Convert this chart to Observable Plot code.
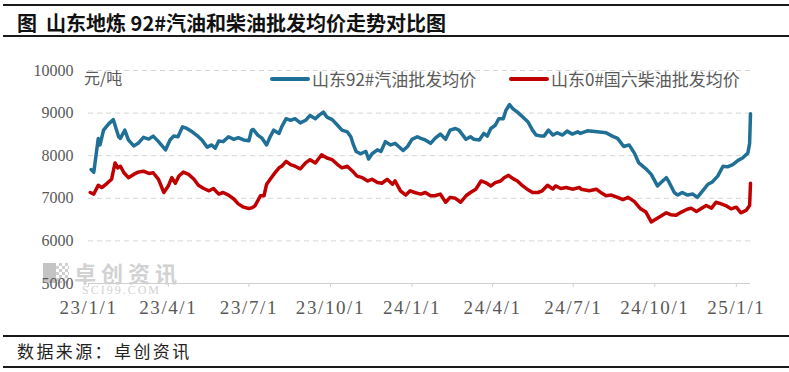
<!DOCTYPE html>
<html>
<head>
<meta charset="utf-8">
<script src="https://cdn.jsdelivr.net/npm/d3@7"></script>
<script src="https://cdn.jsdelivr.net/npm/@observablehq/plot@0.6"></script>
<style>
  html, body { margin: 0; padding: 0; background: #fff; }
  #wrap { position: relative; width: 789px; height: 372px; overflow: hidden; font-family: "Noto Sans CJK SC", sans-serif; }
  .rule { position: absolute; left: 3px; right: 0; background: #1a1a1a; }
  #title { position: absolute; left: 17px; top: 10px; font-size: 20px; font-weight: 700; line-height: 26px; color: #111; white-space: pre; }
  #chart { position: absolute; left: 0; top: 40px; z-index: 2; }
  #source { position: absolute; left: 17px; top: 340px; font-size: 17px; line-height: 22px; letter-spacing: 2.4px; color: #222; }
  .leg { position: absolute; z-index: 3; font-size: 17px; line-height: 20px; color: #595959; white-space: pre; }
  .sw { position: absolute; height: 4px; border-radius: 2px; z-index: 3; }
  #unit { position: absolute; left: 84px; top: 67px; font-size: 16px; line-height: 20px; color: #595959; z-index: 3; }
  #wm { position: absolute; left: 74px; top: 262px; font-size: 22px; font-weight: 700; line-height: 20px; letter-spacing: 5px; color: #d2d2d2; z-index: 1; white-space: pre; }
  #wm small { display: inline-block; margin: 4px 0 0 8px; font-family: "Liberation Serif", serif; font-weight: 400; font-size: 12px; line-height: 9px; letter-spacing: 2px; vertical-align: top; }
  #wmicon { position: absolute; left: 43px; top: 263px; width: 26px; height: 20px; z-index: 1;
    background:
      linear-gradient(#c4c4c4, #c4c4c4) 0 0 / 13px 20px no-repeat,
      repeating-conic-gradient(#d0d0d0 0 25%, #ffffff 0 50%) 13px 0 / 6px 6px; }
  g[aria-label="x-axis tick label"] text { letter-spacing: 1.6px; }
</style>
</head>
<body>
<div id="wrap">
  <div class="rule" style="top:4px;height:2px"></div>
  <div id="title">图  山东地炼 92#汽油和柴油批发均价走势对比图</div>
  <div class="rule" style="top:35px;height:1.5px"></div>
  <div id="wmicon"></div>
  <div id="wm">卓创资讯<br><small>SCI99.COM</small></div>
  <div id="chart"></div>
  <div id="unit">元/吨</div>
  <div class="sw" style="left:270px;top:77px;width:40px;background:#1f6f96"></div>
  <div class="leg" style="left:312px;top:69px" id="leg1"></div>
  <div class="sw" style="left:509px;top:77px;width:40px;background:#c00000"></div>
  <div class="leg" style="left:551px;top:69px" id="leg2"></div>
  <div class="rule" style="top:335px;height:1.5px"></div>
  <div id="source">数据来源：卓创资讯</div>
  <div class="rule" style="top:366px;height:1.5px"></div>
</div>
<script>
const seriesNames = ["山东92#汽油批发均价", "山东0#国六柴油批发均价"];
const seriesColors = ["#1f6f96", "#c00000"];

const gasDates = ["2023-01-04","2023-01-07","2023-01-12","2023-01-14","2023-01-18","2023-01-24","2023-01-29","2023-02-04","2023-02-06","2023-02-11","2023-02-15","2023-02-21","2023-02-26","2023-03-04","2023-03-10","2023-03-15","2023-03-21","2023-03-29","2023-04-03","2023-04-07","2023-04-12","2023-04-17","2023-04-22","2023-04-28","2023-05-05","2023-05-09","2023-05-15","2023-05-20","2023-05-24","2023-05-28","2023-06-02","2023-06-08","2023-06-14","2023-06-19","2023-06-25","2023-07-01","2023-07-04","2023-07-06","2023-07-11","2023-07-16","2023-07-21","2023-07-25","2023-07-29","2023-08-04","2023-08-07","2023-08-12","2023-08-17","2023-08-22","2023-08-28","2023-09-03","2023-09-08","2023-09-14","2023-09-18","2023-09-23","2023-09-27","2023-10-03","2023-10-09","2023-10-14","2023-10-20","2023-10-24","2023-10-27","2023-10-30","2023-11-04","2023-11-10","2023-11-13","2023-11-17","2023-11-23","2023-11-27","2023-12-02","2023-12-08","2023-12-13","2023-12-17","2023-12-22","2023-12-27","2024-01-01","2024-01-07","2024-01-11","2024-01-16","2024-01-22","2024-01-27","2024-02-02","2024-02-08","2024-02-13","2024-02-19","2024-02-23","2024-03-02","2024-03-07","2024-03-11","2024-03-17","2024-03-22","2024-03-26","2024-03-30","2024-04-04","2024-04-08","2024-04-13","2024-04-16","2024-04-20","2024-04-24","2024-04-29","2024-05-05","2024-05-11","2024-05-16","2024-05-20","2024-05-26","2024-05-29","2024-06-03","2024-06-08","2024-06-13","2024-06-19","2024-06-24","2024-06-30","2024-07-06","2024-07-09","2024-07-17","2024-07-28","2024-08-07","2024-08-14","2024-08-20","2024-08-27","2024-09-02","2024-09-08","2024-09-13","2024-09-21","2024-09-27","2024-10-04","2024-10-08","2024-10-14","2024-10-17","2024-10-23","2024-10-27","2024-11-01","2024-11-07","2024-11-13","2024-11-18","2024-11-24","2024-11-30","2024-12-05","2024-12-11","2024-12-17","2024-12-22","2024-12-28","2025-01-03","2025-01-08","2025-01-14","2025-01-16","2025-01-17"];
const gasValues = [7676,7614,8406,8253,8600,8753,8846,8445,8406,8600,8370,8230,8290,8430,8390,8460,8330,8138,8370,8460,8445,8677,8640,8560,8445,8370,8200,8253,8176,8345,8330,8445,8384,8422,8370,8352,8600,8615,8485,8406,8253,8445,8600,8523,8677,8869,8831,8869,8769,8831,8946,8869,8946,9023,8907,8846,8715,8600,8560,8445,8253,8099,8046,8099,7922,8046,8138,8099,8330,8253,8290,8215,8122,8215,8384,8445,8406,8370,8290,8406,8507,8384,8600,8638,8600,8384,8445,8384,8370,8523,8460,8638,8715,8869,8869,9062,9200,9100,9023,8907,8792,8600,8485,8460,8460,8600,8485,8538,8485,8577,8507,8560,8523,8584,8560,8538,8460,8406,8215,8253,8060,7830,7692,7561,7290,7369,7484,7384,7136,7076,7136,7076,7099,7020,7176,7330,7384,7522,7753,7738,7792,7891,7946,8060,8290,8985];

const dieselDates = ["2023-01-03","2023-01-07","2023-01-12","2023-01-16","2023-01-22","2023-01-27","2023-01-31","2023-02-03","2023-02-06","2023-02-10","2023-02-15","2023-02-21","2023-02-26","2023-03-04","2023-03-10","2023-03-15","2023-03-21","2023-03-27","2023-04-01","2023-04-05","2023-04-09","2023-04-13","2023-04-18","2023-04-24","2023-04-30","2023-05-05","2023-05-11","2023-05-17","2023-05-22","2023-05-28","2023-06-02","2023-06-08","2023-06-14","2023-06-19","2023-06-25","2023-07-01","2023-07-05","2023-07-08","2023-07-14","2023-07-18","2023-07-21","2023-07-25","2023-07-29","2023-08-04","2023-08-07","2023-08-12","2023-08-17","2023-08-22","2023-08-28","2023-09-03","2023-09-08","2023-09-14","2023-09-21","2023-09-27","2023-10-03","2023-10-09","2023-10-14","2023-10-20","2023-10-26","2023-10-31","2023-11-06","2023-11-12","2023-11-17","2023-11-23","2023-11-28","2023-12-04","2023-12-10","2023-12-13","2023-12-19","2023-12-25","2023-12-30","2024-01-05","2024-01-11","2024-01-16","2024-01-22","2024-01-27","2024-02-02","2024-02-08","2024-02-13","2024-02-19","2024-02-25","2024-03-02","2024-03-07","2024-03-13","2024-03-19","2024-03-24","2024-03-30","2024-04-04","2024-04-10","2024-04-14","2024-04-19","2024-04-24","2024-04-29","2024-05-05","2024-05-11","2024-05-16","2024-05-22","2024-05-27","2024-06-02","2024-06-08","2024-06-11","2024-06-17","2024-06-23","2024-06-30","2024-07-08","2024-07-10","2024-07-19","2024-07-27","2024-08-02","2024-08-07","2024-08-13","2024-08-20","2024-08-26","2024-09-01","2024-09-08","2024-09-15","2024-09-21","2024-09-27","2024-10-02","2024-10-08","2024-10-14","2024-10-19","2024-10-25","2024-10-31","2024-11-06","2024-11-11","2024-11-17","2024-11-22","2024-11-28","2024-12-04","2024-12-09","2024-12-15","2024-12-20","2024-12-26","2025-01-01","2025-01-06","2025-01-12","2025-01-16","2025-01-17"];
const dieselValues = [7136,7099,7307,7253,7353,7446,7830,7715,7753,7600,7484,7561,7614,7637,7584,7600,7446,7136,7290,7484,7353,7522,7614,7561,7446,7307,7230,7176,7230,7099,7136,7076,6984,6869,6792,6760,6780,6830,7060,7060,7330,7446,7561,7715,7753,7868,7792,7753,7692,7830,7907,7830,8023,7946,7907,7792,7715,7753,7637,7522,7484,7407,7446,7369,7353,7446,7330,7407,7176,7076,7176,7130,7099,7136,7060,7060,7099,6907,7022,7000,6907,7060,7136,7214,7407,7369,7290,7369,7407,7484,7538,7461,7407,7290,7199,7136,7136,7176,7307,7214,7290,7230,7253,7214,7253,7214,7176,7214,7122,7060,7076,7022,6967,7022,6922,6753,6676,6445,6507,6584,6660,6615,6600,6676,6737,6769,6690,6753,6830,6769,6907,6869,6830,6753,6792,6660,6715,6830,7353];

const yTicks = [5000, 6000, 7000, 8000, 9000, 10000];
const xTickDates = ["2023-01-01","2023-04-01","2023-07-01","2023-10-01","2024-01-01","2024-04-01","2024-07-01","2024-10-01","2025-01-01"];
const xTickLabels = ["23/1/1","23/4/1","23/7/1","23/10/1","24/1/1","24/4/1","24/7/1","24/10/1","25/1/1"];
const xDomain = ["2023-01-01", "2025-01-17"];

const parse = s => new Date(s + "T00:00:00Z");
const gas = gasDates.map((d, i) => ({date: parse(d), value: gasValues[i]}));
const diesel = dieselDates.map((d, i) => ({date: parse(d), value: dieselValues[i]}));

document.getElementById("leg1").textContent = seriesNames[0];
document.getElementById("leg2").textContent = seriesNames[1];

const chart = Plot.plot({
  width: 789,
  height: 292,
  marginLeft: 88,
  marginRight: 39,
  marginTop: 30,
  marginBottom: 49,
  style: {fontFamily: "'Liberation Serif', serif", background: "transparent", overflow: "visible"},
  x: {type: "utc", domain: xDomain.map(parse), label: null},
  y: {domain: [5000, 10000], label: null},
  marks: [
    Plot.ruleY(yTicks.slice(1), {stroke: "#d6d6d6", strokeWidth: 1, strokeDasharray: "5,4"}),
    Plot.ruleY([yTicks[0]], {stroke: "#d0d0d0", strokeWidth: 1}),
    Plot.axisY({ticks: yTicks, tickSize: 0, tickPadding: 15, fontSize: 16, fill: "#595959", tickFormat: d => String(d), label: null}),
    Plot.axisX({ticks: xTickDates.map(parse), tickFormat: (d, i) => xTickLabels[i], tickSize: 4, tickPadding: 13, fontSize: 19, stroke: "#d0d0d0", fill: "#595959", label: null}),
    Plot.line(gas, {x: "date", y: "value", stroke: seriesColors[0], strokeWidth: 3.5, strokeLinejoin: "round", strokeLinecap: "round"}),
    Plot.line(diesel, {x: "date", y: "value", stroke: seriesColors[1], strokeWidth: 3.5, strokeLinejoin: "round", strokeLinecap: "round"})
  ]
});
document.getElementById("chart").appendChild(chart);
</script>
</body>
</html>
